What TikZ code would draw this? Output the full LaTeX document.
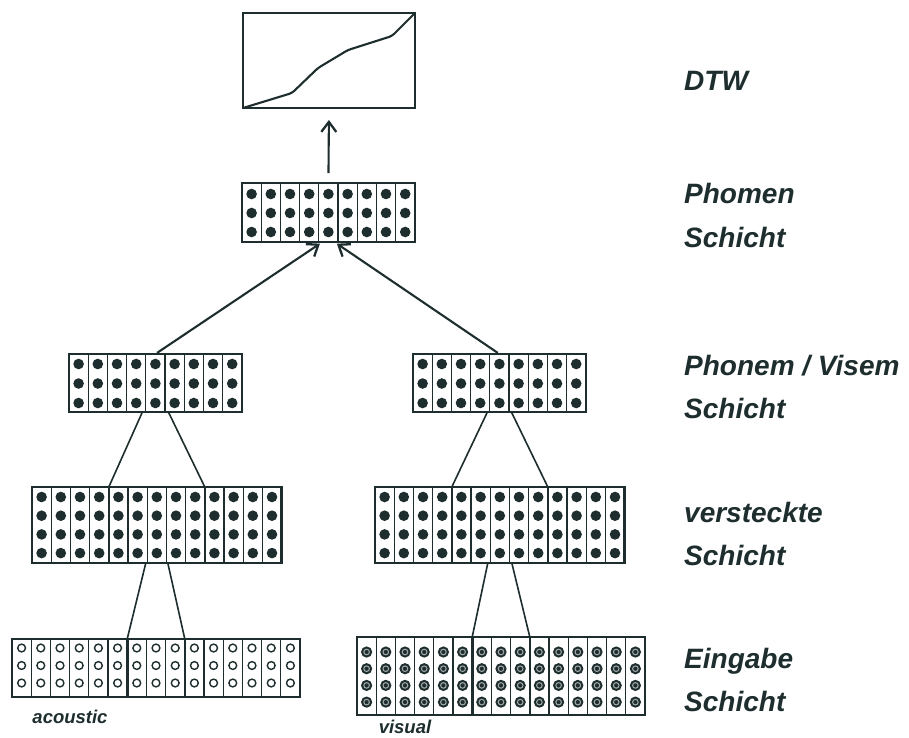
\documentclass[tikz,border=0pt]{standalone}
\usepackage{fontspec}
\setmainfont{Liberation Sans}
\usetikzlibrary{arrows.meta}
\definecolor{ink}{HTML}{1E2E2E}
\newcommand\nnlayer[9]{%
  \pgfmathsetmacro\lw{#4*19.2}%
  \pgfmathtruncatemacro\lc{#4-1}%
  \node[layerbox, anchor=north west, minimum width=\lw pt, minimum height=#6 pt] (#1) at (#2,#3) {};
  \foreach \i in {1,...,\lc} \draw[sepline] ({#2+\i*19.2},#3) -- ++(0,#6);
  \foreach \i in {1,...,#4} \foreach \j in {1,...,#5}
    \node[#9] at ({#2+(\i-0.5)*19.2},{#3+#7+(\j-1)*#8}) {};
  \draw[borderline] (#1.north west) rectangle (#1.south east);
}
\begin{document}
\begin{tikzpicture}[x=1pt,y=-1pt,
  layerbox/.style={draw=none, fill=white, inner sep=0pt, outer sep=0pt},
  sepline/.style={draw=ink, line width=1.1pt},
  borderline/.style={draw=ink, line width=2.4pt},
  winbox/.style={draw=ink, line width=2.6pt, inner sep=0pt, outer sep=0pt, anchor=north west},
  fulldot/.style={circle, fill=ink, inner sep=0pt, minimum size=10.6pt},
  opendot/.style={circle, draw=ink, line width=1.4pt, fill=white, inner sep=0pt, minimum size=7.8pt},
  visdot/.style={circle, fill=ink, draw=ink, line width=2.1pt, double=ink!40!white, double distance=1pt, inner sep=0pt, minimum size=5.6pt},
  conn/.style={draw=ink, line width=1.6pt},
  arr/.style={draw=ink, line width=2.1pt, -{Straight Barb[length=10pt,width=15pt,line width=2.3pt]}},
  lbl/.style={text=ink, font=\fontsize{28}{30}\selectfont\bfseries\itshape, anchor=base west, inner sep=0pt},
  slbl/.style={text=ink, font=\fontsize{18.5}{20}\selectfont\bfseries\itshape, anchor=base, inner sep=0pt}
]
\useasboundingbox (0,0) rectangle (909,737);
\fill[white] (0,0) rectangle (909,737);

% DTW box
\node[draw=ink, line width=2.3pt, anchor=north west, minimum width=172pt, minimum height=95pt, inner sep=0pt, outer sep=0pt] (dtw) at (243,13) {};
\draw[draw=ink, line width=2.1pt, rounded corners=3pt] (dtw.south west) -- (292,93) -- (318,68) -- (348,50) -- (392,36) -- (dtw.north east);

% layers
\nnlayer{ph}{242}{183}{9}{3}{59}{11}{19}{fulldot}
\nnlayer{pl}{69}{354}{9}{3}{58}{10}{19.5}{fulldot}
\nnlayer{pr}{413}{354}{9}{3}{58}{10}{19.5}{fulldot}
\nnlayer{hl}{32}{487}{13}{4}{76}{10}{18.7}{fulldot}
\nnlayer{hr}{375}{487}{13}{4}{76}{10}{18.7}{fulldot}
\nnlayer{il}{12}{639}{15}{3}{58}{9}{17.5}{opendot}
\nnlayer{ir}{357}{637}{15}{4}{78}{15}{16.7}{visdot}

% windows
\node[winbox, minimum width=96pt, minimum height=76pt] (hlw) at (108.8,487) {};
\node[winbox, minimum width=96pt, minimum height=76pt] (hrw) at (451.8,487) {};
\node[winbox, minimum width=57.6pt, minimum height=58pt] (ilw) at (127.2,639) {};
\node[winbox, minimum width=57.6pt, minimum height=78pt] (irw) at (472.2,637) {};

% connectors
\draw[arr, shorten <=10pt, shorten >=12pt] (ph.north) -- (dtw.south);
\draw[arr, shorten <=2pt, shorten >=3pt] (pl.north) -- ([xshift=-6pt]ph.south);
\draw[arr, shorten <=2pt, shorten >=3pt] (pr.north) -- ([xshift=6pt]ph.south);
\draw[conn] ([xshift=-13pt]pl.south) -- (hlw.north west);
\draw[conn] ([xshift=13pt]pl.south) -- (hlw.north east);
\draw[conn] ([xshift=-12pt]pr.south) -- (hrw.north west);
\draw[conn] ([xshift=12pt]pr.south) -- (hrw.north east);
\draw[conn] ([xshift=-11pt]hlw.south) -- (ilw.north west);
\draw[conn] ([xshift=11pt]hlw.south) -- (ilw.north east);
\draw[conn] ([xshift=-12pt]hrw.south) -- (irw.north west);
\draw[conn] ([xshift=12pt]hrw.south) -- (irw.north east);

% labels
\node[lbl] (t1) at (684,90) {DTW};
\node[lbl] (t2) at (684,203) {Phomen};
\node[lbl] (t3) at (684,247) {Schicht};
\node[lbl] (t4) at (684,375) {Phonem / Visem};
\node[lbl] (t5) at (684,418) {Schicht};
\node[lbl] (t6) at (684,522) {versteckte};
\node[lbl] (t7) at (684,565) {Schicht};
\node[lbl] (t8) at (684,668) {Eingabe};
\node[lbl] (t9) at (684,711) {Schicht};
\node[slbl] (ta) at (70,723) {acoustic};
\node[slbl] (tv) at (405,733) {visual};
\end{tikzpicture}
\end{document}
